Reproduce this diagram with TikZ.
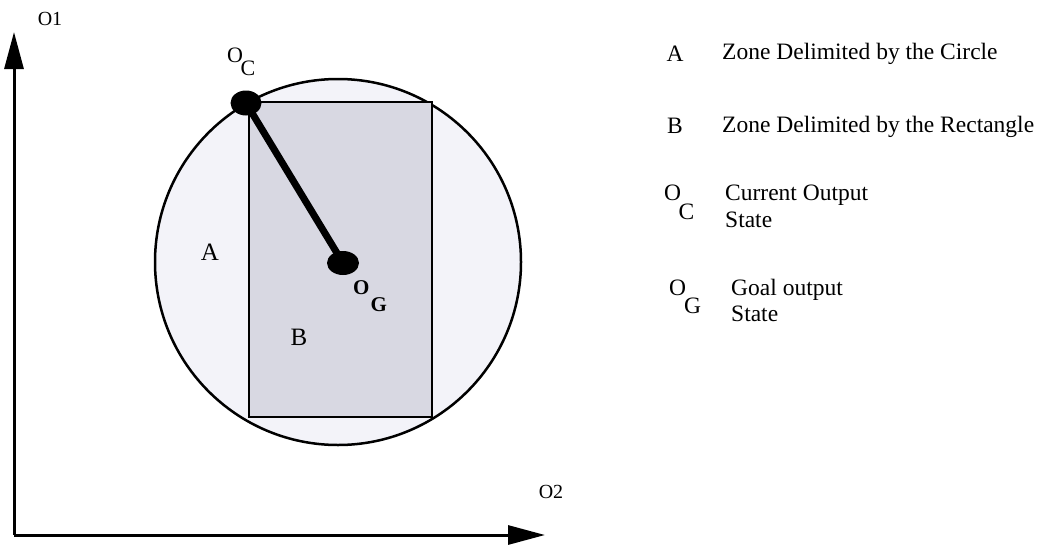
\documentclass[tikz,border=0pt]{standalone}
\usepackage{fontspec}
\setmainfont{Liberation Serif}
\usetikzlibrary{arrows.meta,shapes.geometric}
\definecolor{zonea}{RGB}{243,243,249}
\definecolor{zoneb}{RGB}{216,216,226}
\tikzset{
  axis/.style={line width=3pt,-{Triangle[length=37pt,width=19pt]}},
  dot/.style={ellipse,fill=black,inner sep=0pt,minimum width=31pt,minimum height=25pt},
  lbl/.style={font=\fontsize{25}{28}\selectfont,inner sep=0pt},
  key/.style={font=\fontsize{23.5}{27}\selectfont,inner sep=0pt,anchor=base west,align=left},
}
\begin{document}
\begin{tikzpicture}[x=1pt,y=-1pt]
\useasboundingbox (0,0) rectangle (1044,544);
% axes
\coordinate (orig) at (14,535);
\coordinate (o1tip) at (14,32);
\coordinate (o2tip) at (545,535);
\draw[axis] (orig) -- (o1tip);
\draw[axis] (orig) -- (o2tip);
\node[lbl,font=\fontsize{20}{22}\selectfont] (o1) at (50,19) {O1};
\node[lbl,font=\fontsize{20}{22}\selectfont] (o2) at (551,492) {O2};
% zones
\draw[line width=2.5pt,fill=zonea] (338,262) circle (183);
\draw[line width=2.5pt,fill=zoneb] (249,102) rectangle (432,417);
\node[lbl] (za) at (210,252) {A};
\node[lbl] (zb) at (299,337) {B};
% states
\node[dot] (oc) at (246,103) {};
\node[dot,minimum width=32pt,minimum height=24pt] (og) at (343,263) {};
\draw[line width=7pt] (oc.center) -- (og.center);
\node[lbl,font=\fontsize{22}{24}\selectfont,anchor=base west] (oclbl) at (227,62) {O\kern-2.5pt\raisebox{-13pt}{C}};
\node[lbl,font=\bfseries\fontsize{21}{24}\selectfont,anchor=base west] (oglbl) at (353,294) {O\kern1pt\raisebox{-17pt}{G}};
% legend
\node[key,anchor=center] (ka) at (675,54) {A};
\node[key] (kat) at (722,59) {Zone Delimited by the Circle};
\node[key,anchor=center] (kb) at (675,126) {B};
\node[key] (kbt) at (722,132) {Zone Delimited by the Rectangle};
\node[key] (kc) at (664,200) {O\kern-2.5pt\raisebox{-19pt}{C}};
\node[key] (kct) at (725,227) {Current Output\\State};
\node[key] (kg) at (669,295) {O\kern-2pt\raisebox{-18pt}{G}};
\node[key,font=\fontsize{23.5}{26}\selectfont] (kgt) at (731,321) {Goal output\\State};
\end{tikzpicture}
\end{document}
